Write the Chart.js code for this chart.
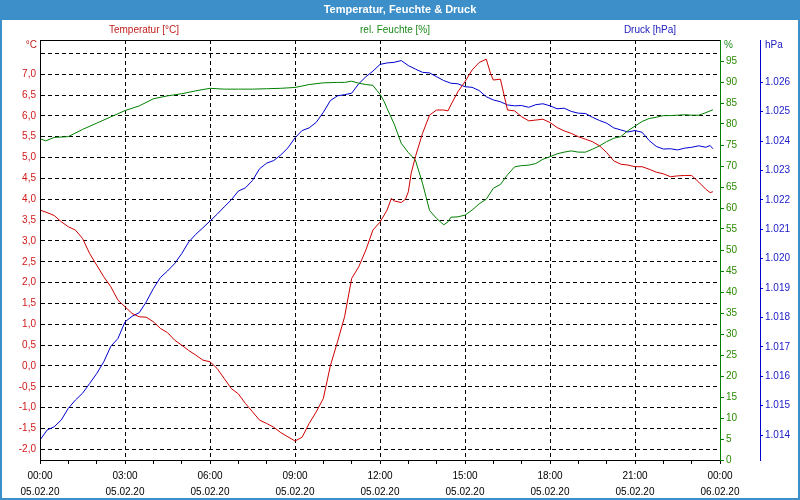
<!DOCTYPE html>
<html>
<head>
<meta charset="utf-8">
<script src="https://cdn.jsdelivr.net/npm/chart.js@4/dist/chart.umd.min.js"></script>
<style>
html,body{margin:0;padding:0;background:#fff;}
canvas{display:block;}
</style>
</head>
<body>
<canvas id="c" width="800" height="500"></canvas>
<script>
// ---- data (hours since 05.02.20 00:00) ----
const tempHours = [0,0.25,0.5,0.75,1,1.25,1.5,1.75,2,2.25,2.5,2.75,3,3.25,3.5,3.75,4,4.25,4.5,4.75,5,5.25,5.5,5.75,6,6.25,6.5,6.75,7,7.25,7.5,7.75,8,8.25,8.5,8.75,9,9.25,9.5,9.75,10,10.25,10.5,10.75,11,11.25,11.5,11.75,12,12.25,12.4,12.5,12.75,12.9,13,13.1,13.25,13.5,13.75,14,14.25,14.4,14.5,14.75,15,15.25,15.5,15.75,15.9,16,16.25,16.5,16.75,17,17.25,17.5,17.75,18,18.25,18.5,18.75,19,19.25,19.5,19.75,20,20.25,20.5,20.75,21,21.25,21.5,21.75,22,22.25,22.5,22.75,23,23.25,23.5,23.65,23.75];
const tempValues = [3.74,3.68,3.61,3.46,3.34,3.26,3.06,2.70,2.42,2.14,1.90,1.58,1.42,1.26,1.18,1.17,1.06,0.90,0.80,0.62,0.50,0.37,0.26,0.14,0.10,-0.06,-0.30,-0.54,-0.67,-0.90,-1.10,-1.30,-1.38,-1.47,-1.60,-1.70,-1.80,-1.71,-1.38,-1.10,-0.78,0.01,0.58,1.18,2.10,2.38,2.78,3.26,3.45,3.74,4.02,3.96,3.92,4.00,4.18,4.62,5.02,5.58,6.02,6.14,6.14,6.12,6.26,6.58,6.82,7.10,7.28,7.36,7.02,6.86,6.88,6.14,6.12,5.98,5.88,5.90,5.92,5.84,5.72,5.64,5.58,5.50,5.44,5.38,5.28,5.12,4.92,4.84,4.82,4.78,4.78,4.72,4.65,4.61,4.54,4.56,4.57,4.57,4.41,4.24,4.16,4.18];

const humHours = [0,0.2,0.5,1,1.5,2,2.5,3,3.5,4,4.5,5,5.5,6,6.5,7,7.5,8,8.5,9,9.5,10,10.5,10.75,11,11.25,11.5,11.75,11.9,12,12.15,12.25,12.5,12.75,13,13.25,13.5,13.75,14,14.25,14.4,14.5,14.75,15,15.25,15.5,15.75,16,16.25,16.5,16.75,17,17.25,17.5,17.75,18,18.25,18.5,18.75,19,19.25,19.5,19.75,20,20.25,20.5,20.75,21,21.25,21.5,21.75,22,22.25,22.5,22.75,23,23.25,23.5,23.75];
const humValues = [76.5,76.0,76.8,77.0,78.7,80.2,81.7,83.2,84.3,86.0,86.7,87.2,87.9,88.5,88.3,88.3,88.3,88.4,88.5,88.7,89.4,89.8,89.9,89.9,90.2,89.7,89.4,89.2,87.9,87.1,85.3,83.7,80.0,75.4,73.2,71.4,65.9,59.4,57.5,56.0,56.7,57.8,57.9,58.3,59.5,61.0,62.1,64.7,65.6,67.9,69.8,70.1,70.2,70.6,71.6,72.2,72.9,73.3,73.6,73.3,73.3,74.0,74.8,75.8,76.6,77.0,78.4,79.5,80.6,81.3,81.6,82.0,82.0,82.1,82.2,82.1,82.1,82.7,83.4];

const presHours = [0,0.25,0.5,0.75,1,1.25,1.5,1.75,2,2.25,2.5,2.75,3,3.25,3.5,3.75,4,4.25,4.5,4.75,5,5.25,5.5,5.75,6,6.25,6.5,6.75,7,7.25,7.5,7.75,8,8.25,8.5,8.75,9,9.25,9.5,9.75,10,10.25,10.5,10.75,11,11.25,11.5,11.75,12,12.25,12.5,12.75,13,13.25,13.5,13.75,14,14.25,14.5,14.75,15,15.25,15.5,15.75,16,16.25,16.5,16.75,17,17.25,17.5,17.75,18,18.25,18.5,18.75,19,19.25,19.5,19.75,20,20.25,20.5,20.75,21,21.25,21.5,21.75,22,22.25,22.5,22.75,23,23.25,23.5,23.65,23.75];
const presValues = [1013.83,1014.17,1014.28,1014.51,1014.91,1015.19,1015.42,1015.75,1016.09,1016.49,1017.02,1017.28,1017.85,1018.04,1018.16,1018.53,1018.98,1019.36,1019.58,1019.83,1020.17,1020.57,1020.83,1021.05,1021.28,1021.51,1021.76,1022.00,1022.30,1022.41,1022.66,1023.06,1023.25,1023.34,1023.53,1023.77,1024.11,1024.36,1024.45,1024.64,1024.98,1025.38,1025.54,1025.58,1025.63,1025.95,1026.19,1026.38,1026.61,1026.66,1026.68,1026.74,1026.57,1026.45,1026.34,1026.32,1026.19,1026.06,1025.97,1025.95,1025.85,1025.83,1025.72,1025.51,1025.40,1025.34,1025.23,1025.20,1025.21,1025.15,1025.24,1025.27,1025.20,1025.10,1025.12,1025.01,1024.95,1024.94,1024.81,1024.70,1024.61,1024.45,1024.38,1024.31,1024.36,1024.30,1024.02,1023.82,1023.73,1023.74,1023.70,1023.76,1023.79,1023.84,1023.79,1023.85,1023.74];

// ---- tick labels ----
const hourTicks = [0,1,2,3,4,5,6,7,8,9,10,11,12,13,14,15,16,17,18,19,20,21,22,23,24];
const timeLabels = ['00:00','03:00','06:00','09:00','12:00','15:00','18:00','21:00','00:00'];
const dateLabels = ['05.02.20','05.02.20','05.02.20','05.02.20','05.02.20','05.02.20','05.02.20','05.02.20','06.02.20'];
const tempTicks = [-2.0,-1.5,-1.0,-0.5,0.0,0.5,1.0,1.5,2.0,2.5,3.0,3.5,4.0,4.5,5.0,5.5,6.0,6.5,7.0,7.5];
const humTicks = [0,5,10,15,20,25,30,35,40,45,50,55,60,65,70,75,80,85,90,95];
const presTicks = [1014,1015,1016,1017,1018,1019,1020,1021,1022,1023,1024,1025,1026];

const seriesNames = ['Temperatur [°C]','rel. Feuchte [%]','Druck [hPa]'];
const chartTitle = 'Temperatur, Feuchte & Druck';

const RED = '#d00000', GREEN = '#008000', BLUE = '#0000d0';
const FONT = "'Liberation Sans', 'DejaVu Sans', Arial, sans-serif";
Chart.defaults.font.family = FONT;
Chart.defaults.font.size = 10;

const pts = (hs, vs) => hs.map((h, i) => ({x: h, y: vs[i]}));

const decor = {
  id: 'decor',
  beforeDraw(chart) {
    const ctx = chart.ctx;
    ctx.save();
    ctx.fillStyle = '#ffffff';
    ctx.fillRect(0, 0, 800, 500);
    ctx.restore();
  },
  afterDraw(chart) {
    const ctx = chart.ctx;
    const a = chart.chartArea;
    ctx.save();
    // title bar
    ctx.fillStyle = '#3c8fc8';
    ctx.fillRect(0, 0, 800, 20);
    ctx.strokeStyle = '#3c8fc8';
    ctx.lineWidth = 2;
    ctx.strokeRect(1, 1, 798, 498);
    ctx.fillStyle = '#ffffff';
    ctx.font = "bold 11px " + FONT;
    ctx.textAlign = 'center';
    ctx.textBaseline = 'middle';
    ctx.fillText(chartTitle, 400, 9.5);
    // series captions
    ctx.font = "10px " + FONT;
    ctx.fillStyle = '#c02020'; ctx.fillText(seriesNames[0], 144, 30);
    ctx.fillStyle = '#1a8a1a'; ctx.fillText(seriesNames[1], 395, 30);
    ctx.fillStyle = '#2020c0'; ctx.fillText(seriesNames[2], 650, 30);
    // unit captions
    ctx.textAlign = 'right';
    ctx.fillStyle = '#c02020'; ctx.fillText('°C', 37, 45);
    ctx.textAlign = 'left';
    ctx.fillStyle = '#1a8a1a'; ctx.fillText('%', 724, 45);
    ctx.fillStyle = '#2020c0'; ctx.fillText('hPa', 765, 45);
    // frame: top, left
    ctx.strokeStyle = '#000';
    ctx.lineWidth = 1;
    ctx.beginPath();
    ctx.moveTo(a.left + 0.5, a.bottom);
    ctx.lineTo(a.left + 0.5, a.top + 0.5);
    ctx.lineTo(a.right, a.top + 0.5);
    ctx.stroke();
    ctx.restore();
  }
};

new Chart(document.getElementById('c'), {
  type: 'line',
  data: {
    datasets: [
      {label: seriesNames[0], data: pts(tempHours, tempValues), yAxisID: 'yT', borderColor: RED, borderWidth: 1, pointRadius: 0, tension: 0, fill: false},
      {label: seriesNames[1], data: pts(humHours, humValues), yAxisID: 'yH', borderColor: GREEN, borderWidth: 1, pointRadius: 0, tension: 0, fill: false},
      {label: seriesNames[2], data: pts(presHours, presValues), yAxisID: 'yP', borderColor: BLUE, borderWidth: 1, pointRadius: 0, tension: 0, fill: false}
    ]
  },
  options: {
    responsive: false,
    animation: false,
    devicePixelRatio: 1,
    layout: {padding: {top: 40, left: 0, right: 0, bottom: 0}},
    plugins: {legend: {display: false}, title: {display: false}, tooltip: {enabled: false}},
    scales: {
      x: {
        type: 'linear', min: 0, max: 24,
        afterBuildTicks: s => { s.ticks = hourTicks.map(v => ({value: v})); },
        afterFit: s => { s.height = 40; },
        ticks: {
          autoSkip: false, maxRotation: 0, minRotation: 0, padding: 4, color: '#000',
          font: {size: 10, lineHeight: 1.6},
          callback: v => (v % 3 === 0) ? [timeLabels[v / 3], dateLabels[v / 3]] : ''
        },
        grid: {
          drawOnChartArea: true, drawTicks: true, tickLength: 4, tickColor: '#000', lineWidth: 1,
          color: c => (c.tick && c.tick.value % 3 === 0 && c.tick.value !== 0 && c.tick.value !== 24) ? '#000' : 'rgba(0,0,0,0)'
        },
        border: {display: true, color: '#000', width: 1, dash: [4, 3]}
      },
      yT: {
        type: 'linear', position: 'left', min: -2.256, max: 7.82,
        afterBuildTicks: s => { s.ticks = tempTicks.map(v => ({value: v})); },
        afterFit: s => { s.width = 40; },
        ticks: {
          padding: 4, color: '#d01818', font: {size: 10},
          callback: v => v === 7.5 ? '' : v.toFixed(1).replace('.', ',')
        },
        grid: {drawOnChartArea: true, drawTicks: false, color: '#000', lineWidth: 1},
        border: {display: true, color: '#000', width: 1, dash: [4, 3]}
      },
      yH: {
        type: 'linear', position: 'right', min: 0, max: 100,
        afterBuildTicks: s => { s.ticks = humTicks.map(v => ({value: v})); },
        afterFit: s => { s.width = 40; },
        ticks: {padding: 2, color: '#2a8a00', font: {size: 10}, callback: v => String(v)},
        grid: {drawOnChartArea: false, drawTicks: true, tickLength: 4, tickColor: GREEN, color: GREEN},
        border: {display: true, color: GREEN, width: 1}
      },
      yP: {
        type: 'linear', position: 'right', min: 1013.15, max: 1027.44,
        afterBuildTicks: s => { s.ticks = presTicks.map(v => ({value: v})); },
        afterFit: s => { s.width = 40; },
        ticks: {
          padding: 2, color: '#2020c8', font: {size: 10},
          callback: v => { const t = String(Math.round(v)); return t[0] + '.' + t.slice(1); }
        },
        grid: {drawOnChartArea: false, drawTicks: true, tickLength: 3, tickColor: BLUE, color: BLUE},
        border: {display: true, color: BLUE, width: 1}
      }
    }
  },
  plugins: [decor]
});
</script>
</body>
</html>
